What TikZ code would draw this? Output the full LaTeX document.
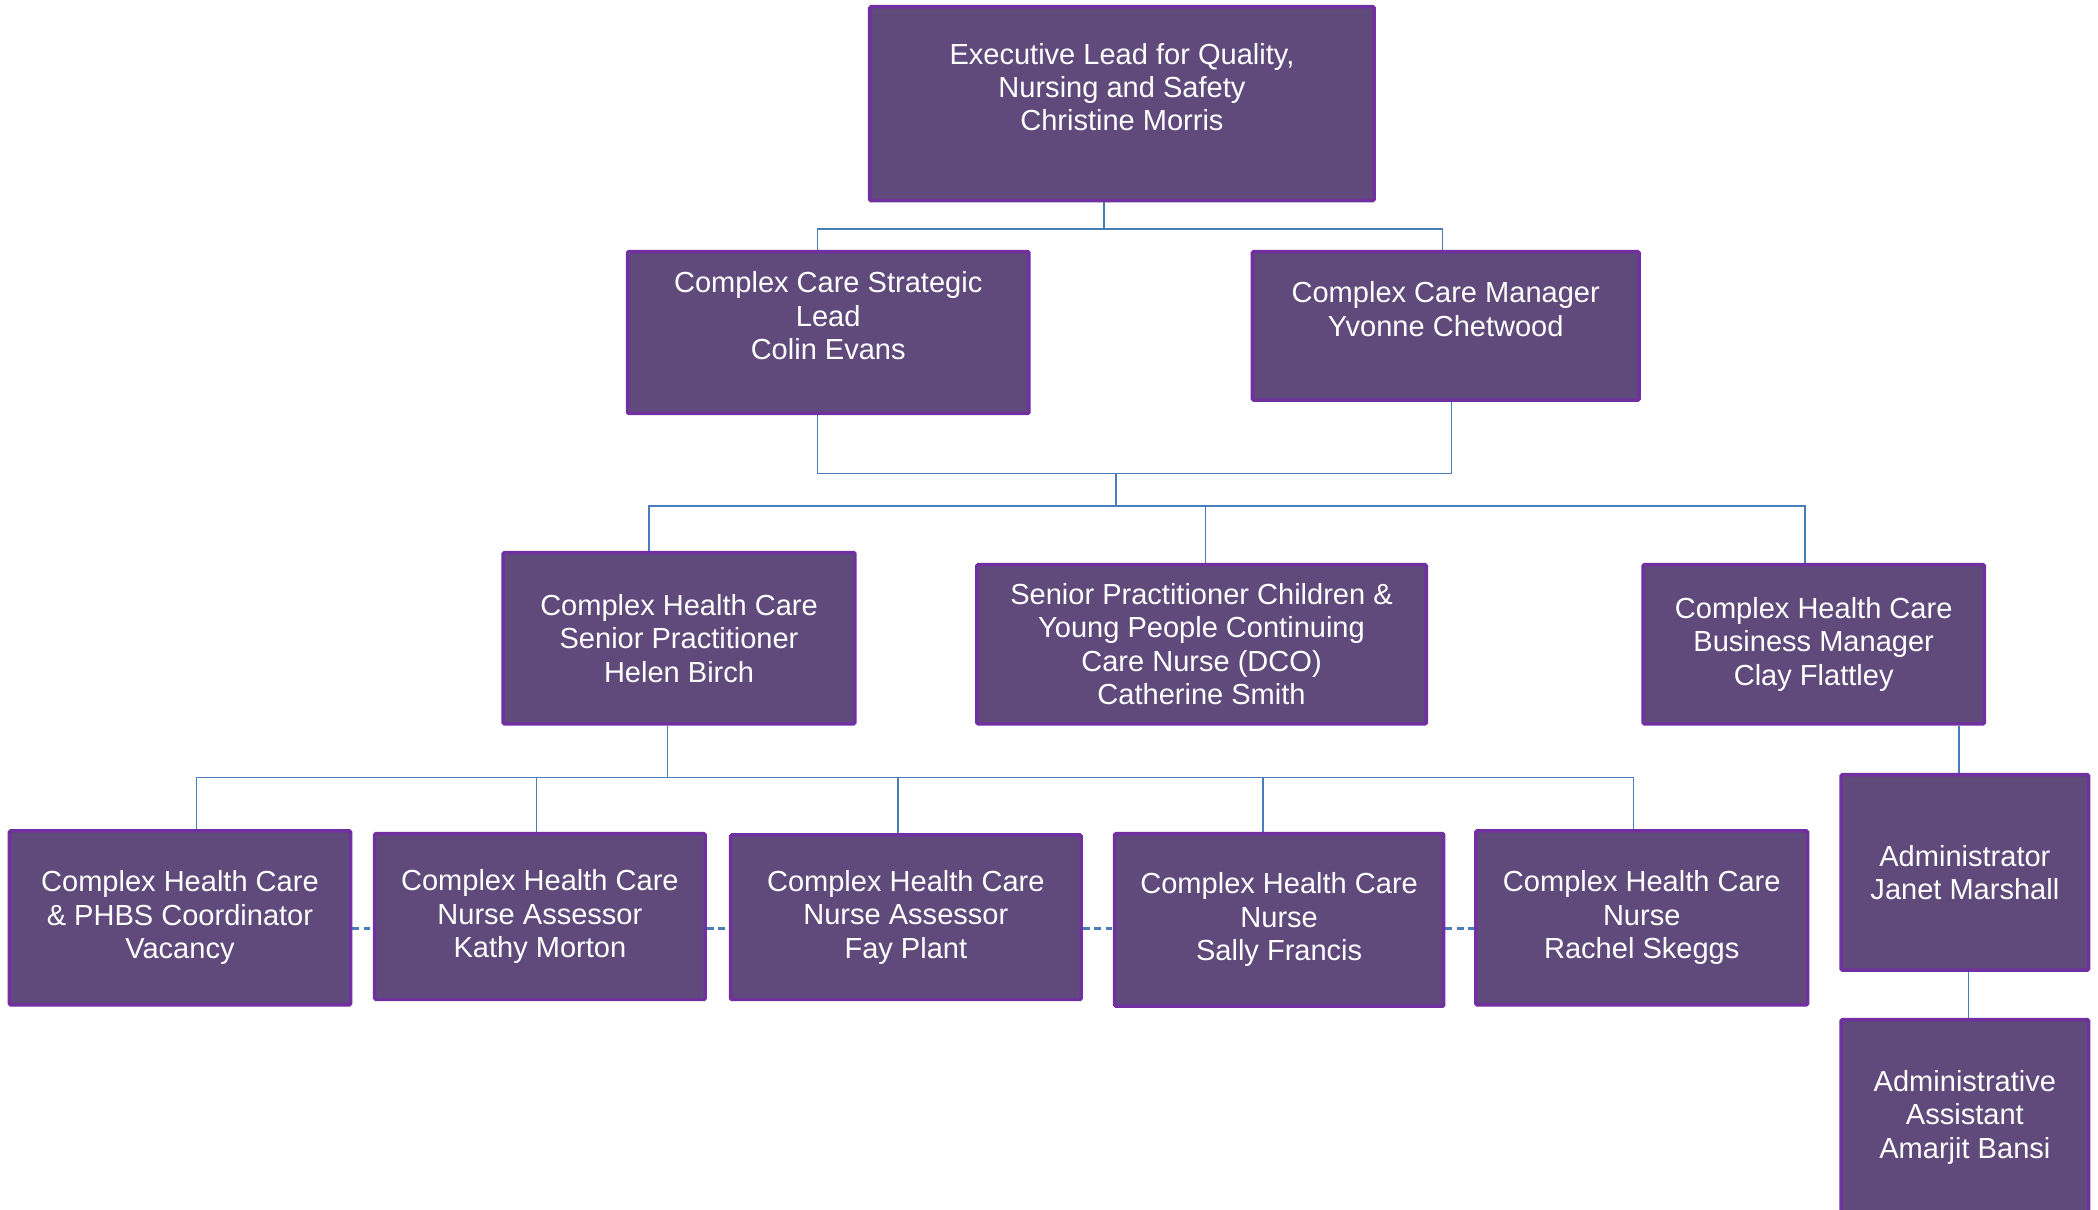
\documentclass[tikz,border=0pt]{standalone}
\usepackage{fontspec}
\setmainfont{Liberation Sans}
\usetikzlibrary{calc,backgrounds}
\definecolor{boxfill}{HTML}{604A7B}
\definecolor{boxedge}{HTML}{7030A0}
\definecolor{linkblue}{HTML}{4A7EBB}
\begin{document}
\begin{tikzpicture}[x=1pt,y=-1pt,inner sep=2pt,
unit/.style={draw=boxedge,fill=boxfill,line width=2.6pt,rectangle,rounded corners=1pt,text=white,align=center,font=\fontsize{21.7}{25}\selectfont},
link/.style={draw=linkblue,line width=1.1pt},
dotlink/.style={draw=linkblue,line width=1.8pt,dash pattern=on 5pt off 3.5pt}]
\useasboundingbox (0,0) rectangle (1568,903.6);
% boxes
\draw (838.5,77.5) node[unit,minimum width=377pt,minimum height=145pt] (exec) {Executive Lead for Quality,\\Nursing and Safety\\Christine Morris\\~};
\draw (619,248.5) node[unit,minimum width=300pt,minimum height=121pt] (strat) {Complex Care Strategic\\Lead\\Colin Evans\\~};
\draw (1080.5,243.5) node[unit,minimum width=289pt,minimum height=111pt] (mgr) {Complex Care Manager\\Yvonne Chetwood\\~};
\draw (507.5,477) node[unit,minimum width=263pt,minimum height=128pt] (helen) {Complex Health Care\\Senior Practitioner\\Helen Birch};
\draw (898,481.5) node[unit,minimum width=336pt,minimum height=119pt] (cath) {Senior Practitioner Children \&\\Young People Continuing\\Care Nurse (DCO)\\Catherine Smith};
\draw (1355.5,481.5) node[unit,minimum width=255pt,minimum height=119pt] (clay) {Complex Health Care\\Business Manager\\Clay Flattley};
\draw (134.5,686) node[unit,minimum width=255pt,minimum height=130pt] (vac) {Complex Health Care\\\& PHBS Coordinator\\Vacancy};
\draw (403.5,685) node[unit,minimum width=247pt,minimum height=124pt] (kathy) {Complex Health Care\\Nurse Assessor\\Kathy Morton};
\draw (677,685.5) node[unit,minimum width=262pt,minimum height=123pt] (fay) {Complex Health Care\\Nurse Assessor\\Fay Plant};
\draw (956,687.5) node[unit,minimum width=246pt,minimum height=129pt] (sally) {Complex Health Care\\Nurse\\Sally Francis};
\draw (1227,686) node[unit,minimum width=248pt,minimum height=130pt] (rachel) {Complex Health Care\\Nurse\\Rachel Skeggs};
\draw (1468.5,652) node[unit,minimum width=185pt,minimum height=146pt] (admin) {Administrator\\Janet Marshall};
\draw (1468.5,835) node[unit,minimum width=185pt,minimum height=146pt] (asst) {Administrative\\Assistant\\Amarjit Bansi};
% lines
\coordinate (bus1) at (825,171);
\coordinate (bus2) at (834,354);
\coordinate (bus3) at (834,378);
\coordinate (bus4) at (499,581);
\coordinate (dash) at (0,694);
\begin{scope}[on background layer]
\draw[link] ($(exec.south)+(-13.5,0)$) -- (bus1);
\draw[link] ($(strat.north)+(-8,0)$) |- (bus1) -| ($(mgr.north)+(-2.5,0)$);
\draw[link] ($(strat.south)+(-8,0)$) |- (bus2) -| ($(mgr.south)+(4.5,0)$);
\draw[link] (bus2) -- (bus3);
\draw[link] ($(helen.north)+(-22.5,0)$) |- (bus3) -| ($(clay.north)+(-6.5,0)$);
\draw[link] ($(cath.north)+(3,0)$) |- (bus3);
\draw[link] ($(helen.south)+(-8.5,0)$) -- (bus4);
\draw[link] ($(vac.north)+(12.5,0)$) |- (bus4) -| ($(rachel.north)+(-6,0)$);
\foreach \n/\dx in {kathy/-2.5,fay/-6,sally/-12}
  \draw[link] ($(\n.north)+(\dx,0)$) |- (bus4);
\draw[link] ($(clay.south)+(108.5,0)$) -- ($(admin.north)+(-4.5,0)$);
\draw[link] ($(admin.south)+(2.5,0)$) -- ($(asst.north)+(2.5,0)$);
\foreach \a/\b in {vac/kathy,kathy/fay,fay/sally,sally/rachel}
  \draw[dotlink] (\a.east |- dash) -- (\b.west |- dash);
\end{scope}
\end{tikzpicture}
\end{document}
